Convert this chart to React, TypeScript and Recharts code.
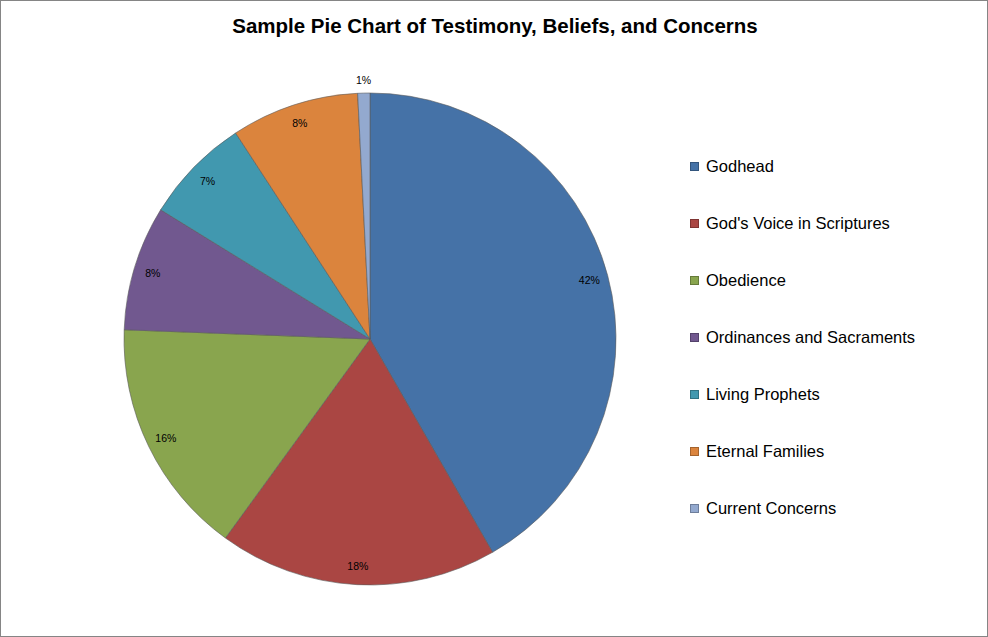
import { PieChart, Pie, Cell, Legend } from "recharts";

const categories = [
  "Godhead",
  "God's Voice in Scriptures",
  "Obedience",
  "Ordinances and Sacraments",
  "Living Prophets",
  "Eternal Families",
  "Current Concerns",
];
const shares = [41.7, 18.3, 15.6, 8.2, 7.0, 8.4, 0.8];
const colors = ["#4572A7", "#AA4643", "#89A54E", "#71588F", "#4198AF", "#DB843D", "#93A9CF"];

const data = categories.map((name, i) => ({ name, value: shares[i] }));

const RADIAN = Math.PI / 180;
const FONT = "'Liberation Sans', Arial, sans-serif";

function renderLabel(props: any) {
  const { cx, cy, midAngle, outerRadius, percent } = props;
  const r = percent < 0.02 ? outerRadius + 13 : outerRadius - 19;
  const x = cx + r * Math.cos(-midAngle * RADIAN);
  const y = cy + r * Math.sin(-midAngle * RADIAN);
  return (
    <text x={x} y={y} textAnchor="middle" dominantBaseline="central" fontSize={10.5} fill="#000" fontFamily={FONT}>
      {`${Math.round(percent * 100)}%`}
    </text>
  );
}

function renderLegend() {
  return (
    <div style={{ fontFamily: FONT, fontSize: 16.5, color: "#000" }}>
      {categories.map((c, i) => (
        <div key={c} style={{ display: "flex", alignItems: "center", height: 57 }}>
          <span style={{ width: 9, height: 9, background: colors[i], border: "1px solid rgba(0,0,0,0.25)", boxSizing: "border-box", marginRight: 7 }} />
          <span>{c}</span>
        </div>
      ))}
    </div>
  );
}

export default function App() {
  return (
    <div style={{ position: "absolute", left: 0, top: 0, width: 988, height: 637, background: "#fff", border: "1px solid #858585", boxSizing: "border-box" }}>
      <div style={{ position: "absolute", left: 0, top: 13, width: 988, textAlign: "center", fontFamily: FONT, fontWeight: "bold", fontSize: 20.5, color: "#000" }}>
        Sample Pie Chart of Testimony, Beliefs, and Concerns
      </div>
      <div style={{ position: "absolute", left: 0, top: 0 }}>
        <PieChart width={986} height={635} margin={{ top: 0, right: 0, bottom: 0, left: 0 }}>
          <Pie
            data={data}
            dataKey="value"
            nameKey="name"
            cx={369}
            cy={338}
            outerRadius={246}
            startAngle={90}
            endAngle={-270}
            stroke="#5a5a5a"
            strokeWidth={0.6}
            label={renderLabel}
            labelLine={false}
            isAnimationActive={false}
          >
            {data.map((d, i) => (
              <Cell key={d.name} fill={colors[i]} />
            ))}
          </Pie>
          <Legend
            layout="vertical"
            content={renderLegend}
            wrapperStyle={{ position: "absolute", left: 689, top: 137, width: 290 }}
          />
        </PieChart>
      </div>
    </div>
  );
}
